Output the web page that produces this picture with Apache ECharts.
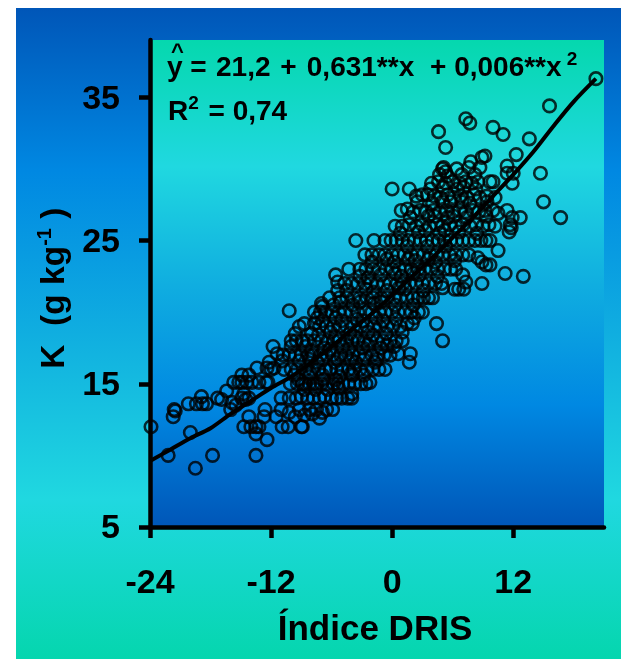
<!DOCTYPE html>
<html><head><meta charset="utf-8">
<style>html,body{margin:0;padding:0;background:#fff}#c{position:absolute;left:16px;top:8px;width:605px;height:651px}</style>
<script src="https://cdn.jsdelivr.net/npm/echarts@6/dist/echarts.min.js"></script>
</head><body><div id="c"></div>
<script>
const xTicks=[-24,-12,0,12];
const yTicks=[5,15,25,35];
const xTitle='Índice DRIS';
const fitX=[-24,-22,-20,-18,-16,-14,-12,-10,-8,-6,-4,-2,0,2,4,6,8,10,12,14,16,18,20.2];
const fitY=[9.6,10.4,11.2,11.9,12.9,13.8,14.7,15.5,16.5,17.6,18.8,19.9,21.2,22.5,23.8,25.2,26.6,28.1,29.6,31.2,33,34.7,36.3];
const sparseLow=[[-23.9,12],[-22.2,10],[-19.5,9.1],[-17.8,10],[-13.5,10],[-20,11.6],[-21.6,13.2],[-21.7,12.7],[-21.5,13.1],[-20.2,13.6],[-19.4,13.6],[-18.8,13.6],[-18.4,13.6],[-18.9,14.1],[-17.3,14],[-16.9,13.9],[-16.4,14.5],[-15.7,15.1],[-14.9,15.6],[-14.2,15.6],[-15.2,15.1],[-14.9,15.1],[-14.4,15.1],[-13.9,15.1],[-13.2,15.1],[-12.5,15.1],[-12.3,15.1],[-15.9,13.7],[-15.5,13.5],[-16,13.2],[-14.7,14.3],[-14.9,14],[-14.2,14],[-14.5,13.9],[-14.2,12.7],[-14.7,12],[-14,12],[-13.5,12],[-13.2,12],[-13.5,11.5],[-12.4,11.1],[-12.6,13.2],[-12.7,12.7],[-11.5,12.7],[-11,13.2],[-10.9,12],[-10.3,12],[-9,12],[-11,14],[-11.8,17.6],[-11.4,17.1],[-12.2,16.5],[-13.4,16.1],[-12.4,16.1],[-12,16],[-11.7,16.1]];
const band12to16=[[-8.9,12],[-9.6,12.7],[-8.7,12.8],[-7.9,12.9],[-7.2,12.6],[-6.9,13],[-10.2,13],[-9.2,13.2],[-8.2,13.2],[-7.5,13.2],[-6.5,13.2],[-5.9,13.2],[-10.2,14],[-9.5,14],[-9,14.1],[-8.4,14],[-7.8,14],[-7.2,14],[-6.7,14.1],[-6,14],[-5.5,14],[-5,14],[-4.4,14],[-4,14],[-4,14.3],[-8.7,14.6],[-7.6,14.6],[-6.4,14.6],[-5.3,14.7],[-10.1,15],[-9.4,15],[-8.9,15],[-8.6,15],[-8.2,15],[-7.8,15],[-7.5,15],[-7,15],[-6.4,15],[-5.8,15],[-5.4,15],[-4.9,15],[-4.3,15],[-3.7,15],[-3.1,15],[-2.6,15],[-2.2,15.1],[-9.7,15.6],[-8.2,15.5],[-6.9,15.6],[-5.2,15.5],[-3.9,15.6],[-2.8,15.6],[-10.7,16],[-10,16],[-9.4,16],[-8.6,16],[-7.9,16],[-7.3,16],[-6.6,16],[-6.1,16],[-5.5,16],[-5,16],[-4.3,16],[-3.8,16],[-3.2,16],[-2.5,16],[-1.9,16],[-1.3,16],[-.7,16]];
const band17to20=[[-10.9,16.6],[-9.2,16.6],[-7.4,16.5],[-5.7,16.5],[-3.6,16.5],[-1.7,16.5],[1.7,16.5],[-10.8,17],[-10.2,17],[-9.6,17],[-9,17],[-8.3,17],[-7.9,17],[-7.1,17],[-6.5,17],[-5.9,17],[-5.1,17],[-4.6,17],[-3.9,17],[-3.3,17],[-2.7,17],[-2,17],[-1.4,17],[-.8,17],[-.2,17],[.6,17.1],[1.8,17.1],[-10,17.6],[-8.6,17.6],[-6.7,17.5],[-4.9,17.6],[-2.9,17.5],[-1.1,17.5],[.2,17.6],[-10,18],[-9.5,18],[-8.9,18],[-8.4,18],[-7.7,18],[-7,18],[-6.4,18],[-5.8,18],[-5.3,18],[-4.5,18],[-4,18],[-3.4,18],[-2.8,18],[-2.2,18],[-1.5,18],[-.9,18],[-.2,18],[.4,18],[1,18],[5,18],[-9.6,18.5],[-8,18.5],[-6.1,18.6],[-4.2,18.5],[-2.4,18.6],[-.6,18.5],[1,18.6],[-9.2,19],[-8.7,19.2],[-7.7,19.2],[-7.2,19],[-6.5,19],[-5.8,19],[-5.2,19],[-4.5,19],[-3.8,19],[-3.1,19],[-2.5,19],[-1.8,19],[-1.2,19],[-.5,19],[.1,19],[.8,19],[1.5,19.2],[2,19.2],[4.4,19.2],[-7.4,19.6],[-5.6,19.6],[-3.5,19.5],[-1.6,19.6],[.4,19.5],[2.2,19.6],[-10.2,20.1],[-7.7,20],[-7.1,20],[-6.6,20],[-6,20],[-5.3,20],[-4.7,20],[-4,20],[-3.4,20],[-2.6,20],[-2,20],[-1.3,20],[-.7,20],[0,20],[.6,20],[1.3,20],[1.9,20],[2.6,20],[3,20]];
const band21to24=[[-7,20.6],[-6.9,20.4],[-5.8,20.5],[-3.9,20.5],[-1.8,20.6],[.3,20.5],[2.1,20.5],[-6.2,21],[-5.4,21.5],[-5.2,21],[-4.5,21],[-3.8,21],[-3.2,21],[-2.5,21],[-1.9,21],[-1.1,21],[-.5,21],[.2,21],[.8,21],[1.5,21],[2.1,21],[2.6,21],[3.1,21],[3.6,21],[4,21],[5,21.7],[6.2,21.6],[6.6,21.6],[7.1,21.6],[-4.5,21.5],[-2.6,21.6],[-.5,21.5],[1.3,21.6],[3.1,21.5],[-5.4,22.1],[-4.7,22],[-4,22],[-3.4,22],[-2.7,22],[-2.1,22],[-1.5,22],[-.8,22],[-.2,22],[.5,22],[1.1,22],[1.7,22],[2.4,22],[3,22],[3.6,22],[4.3,22],[4.9,22],[7.3,22.1],[8.9,22],[-5.6,22.6],[-3.2,22.5],[-1.1,22.6],[.9,22.5],[2.7,22.6],[4.5,22.5],[7,22.6],[11.2,22.7],[13,22.5],[-4.3,23],[-3.2,23],[-2.6,23],[-1.9,23],[-1.3,23],[-.6,23],[0,23],[.7,23],[1.3,23],[1.9,23],[2.6,23],[3.2,23],[3.9,23],[4.5,23],[5.2,23],[5.8,23],[6.3,23],[9.3,23.3],[9.7,23.3],[-2,23.5],[.2,23.5],[2.3,23.6],[4.3,23.5],[6.2,23.6],[8.5,23.8],[8.9,23.5],[-2.7,24],[-2,24],[-1.3,24],[-.7,24],[0,24],[.6,24],[1.2,24],[1.9,24],[2.5,24],[3.1,24],[3.8,24],[4.4,24],[5,24],[5.7,24],[6.3,24],[7,24],[7.6,24],[10.5,24.3]];
const band25to27=[[-3.6,25],[-1.8,25],[-.7,25],[-.1,25],[.4,25],[1,25],[1.6,25],[2.2,25],[2.8,25],[3.4,25],[4,25],[4.6,25],[5.2,25],[5.8,25],[6.4,25],[7,25],[7.6,25],[8.2,25],[8.8,25],[9.3,25],[9.7,25],[.8,25.5],[2.6,25.6],[4.7,25.5],[6.6,25.6],[8.4,25.5],[11.6,25.6],[.3,26],[1,26],[1.7,26.1],[2.4,26],[3,26.1],[3.7,26],[4.4,26.1],[5,26],[5.7,26.1],[6.3,26],[7,26.1],[7.7,26],[8.3,26.1],[9,26],[9.6,26.1],[10.2,26],[11.7,26.1],[11.8,25.9],[1.8,26.6],[3.6,26.7],[5.5,26.6],[7.4,26.6],[9.3,26.7],[11.9,26.6],[12.7,26.6],[16.7,26.6],[.9,27.1],[1.5,27.2],[2.1,27],[2.8,27.1],[3.4,27],[4.1,27.1],[4.7,27],[5.4,27.1],[6,27],[6.7,27.1],[7.3,27],[8,27.1],[8.6,27],[9.2,27.1],[10,27.1],[10.5,26.9],[11.4,27.1]];
const band28to31=[[2.5,27.7],[4,27.6],[5.8,27.7],[7.7,27.6],[9.4,27.7],[15,27.7],[2.4,28.1],[3,28.2],[3.5,28.2],[4.2,28.1],[4.8,28],[5.5,28.2],[6.1,28],[6.8,28.1],[7.4,28],[8.1,28.2],[8.7,28],[9.4,28.1],[10.2,28],[0,28.6],[1.7,28.6],[3.8,28.6],[5.1,28.7],[6.5,28.6],[8.3,28.6],[3.9,29],[4.6,29.1],[5.3,29],[6,29.1],[6.7,29],[7.3,29.1],[7.9,29],[8.5,29.1],[9.7,29.1],[10,29.1],[11.9,29],[4.7,29.6],[5.5,29.5],[6.9,29.6],[8.2,29.6],[11.4,29.7],[12,29.7],[14.7,29.7],[5,30],[5.1,30.1],[5.3,29.8],[6.4,30],[7.6,30.1],[7.8,30.5],[8.7,30.1],[11.4,30.2],[9.2,30.9],[8.9,30.8],[12.3,31],[5.3,31.5]];
const denseCoreLow=[[-9.3,15.3],[-8.1,15.7],[-6.8,15.3],[-5.6,15.3],[-4.1,15.7],[-8.2,16.7],[-6.9,16.7],[-5.4,16.7],[-4.1,16.7],[-2.8,16.7],[-1.5,16.7],[-8,17.3],[-6.2,17.4],[-4.3,17.4],[-2.4,17.7],[-.5,17.7],[-7.3,18.4],[-5.6,18.3],[-3.7,18.3],[-1.9,18.4],[-6.9,19.4],[-5,19.4],[-2.9,19.4],[-.9,19.4],[-5.1,20.7],[-3.2,20.7],[-1.1,20.7]];
const denseCoreHigh=[[-1.9,21.4],[.7,21.7],[-2.4,22.4],[.3,22.7],[2.1,22.7],[-.5,23.7],[1.6,23.7],[3.6,23.7],[1.5,24.6],[3.5,24.6],[5.3,24.6],[3.3,25.7],[5.2,25.7],[4.2,26.7],[6.1,26.7],[5,27.7],[6.9,27.7],[7.1,28.7]];
const sparseHigh=[[15.6,34.4],[7.3,33.5],[7.7,33.2],[4.6,32.6],[10,32.9],[11,32.4],[13.6,32.1],[20.2,36.3]];
const points=[].concat(sparseLow,band12to16,band17to20,denseCoreLow,band21to24,band25to27,band28to31,denseCoreHigh,sparseHigh);
const fit=fitX.map((x,i)=>[x,fitY[i]]);
const font='"Liberation Sans", Arial, sans-serif';
const grad=(stops)=>new echarts.graphic.LinearGradient(0,0,0,1,stops.map(s=>({offset:s[0],color:s[1]})));
const chart=echarts.init(document.getElementById('c'),null,{renderer:'canvas'});
const axisCommon={axisLine:{show:true,onZero:false,lineStyle:{color:'#000',width:4.5}},axisTick:{show:true,length:11,lineStyle:{color:'#000',width:4.5}},splitLine:{show:false}};
const labelStyle={color:'#000',fontFamily:font,fontWeight:'bold',fontSize:34};
const bold28={font:'bold 28px '+font,fill:'#000',lineHeight:36};
const rich2={a:bold28,
 p1:Object.assign({},bold28,{padding:[0,0,0,1.5]}),
 p2:Object.assign({},bold28,{padding:[0,0,0,2]}),
 p3:Object.assign({},bold28,{padding:[0,0,0,2.4]}),
 p4:Object.assign({},bold28,{padding:[0,0,0,8]}),
 s:{font:'bold 19px '+font,fill:'#000',verticalAlign:'top',lineHeight:36}};
chart.setOption({
 animation:false,
 backgroundColor:grad([[0,'#0056b8'],[.25,'#0088e2'],[.5,'#10aee0'],[.755,'#20d8e0'],[1,'#05d6ae']]),
 grid:{left:134,top:32,right:17,bottom:132,show:true,borderWidth:0,backgroundColor:grad([[0,'#05d8ae'],[.26,'#20d8e0'],[.5,'#10aee0'],[.75,'#0088e2'],[1,'#0056b8']])},
 xAxis:Object.assign({},axisCommon,{type:'value',min:-24,max:21,name:xTitle,nameLocation:'middle',nameGap:86,
   nameTextStyle:{color:'#000',fontFamily:font,fontWeight:'bold',fontSize:35,padding:[0,4,0,0]},
   axisTick:Object.assign({},axisCommon.axisTick,{customValues:xTicks}),
   axisLabel:Object.assign({},labelStyle,{margin:40,customValues:xTicks})}),
 yAxis:Object.assign({},axisCommon,{type:'value',min:5,max:39,name:'{a|K  (g kg}{s|-1}{a| ) }',nameLocation:'middle',nameGap:73,
   nameTextStyle:{color:'#000',fontFamily:font,fontWeight:'bold',rich:{a:{fontFamily:font,fontWeight:'bold',fontSize:33.5,color:'#000',lineHeight:38},s:{fontFamily:font,fontWeight:'bold',fontSize:20,color:'#000',verticalAlign:'top',lineHeight:38}}},
   axisTick:Object.assign({},axisCommon.axisTick,{customValues:yTicks}),
   axisLabel:Object.assign({},labelStyle,{margin:30,verticalAlign:'top',lineHeight:4,customValues:yTicks})}),
 series:[
  {type:'scatter',data:points,clip:false,symbol:'circle',symbolSize:12.5,z:3,itemStyle:{color:'rgba(0,0,0,0)',borderColor:'#000',borderWidth:2.6}},
  {type:'line',data:fit,smooth:.3,showSymbol:false,clip:false,z:4,lineStyle:{color:'#000',width:4}}
 ],
 graphic:[
  {type:'text',left:155,top:34,z:10,style:{text:'^',fill:'#000',font:'bold 22px '+font}},
  {type:'text',left:151,top:42,z:10,style:{text:'{a|y = }{p1|21,2 }{p2|+ }{p3|0,631**x }{p4|+ }{a|0,006**x}{s| 2}',rich:rich2}},
  {type:'text',left:152,top:86,z:10,style:{text:'{a|R}{s|2}{p2| }{a|= 0,74}',rich:rich2}}
 ]
});
</script></body></html>
